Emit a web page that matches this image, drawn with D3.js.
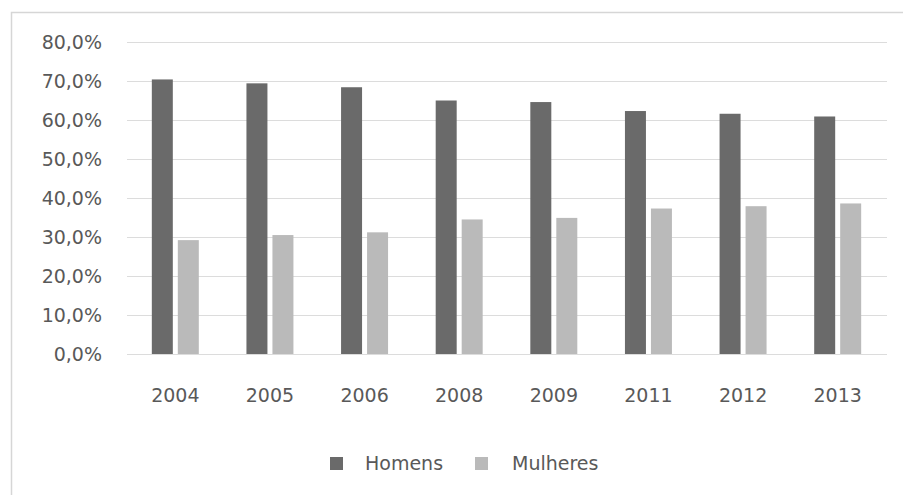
<!DOCTYPE html>
<html>
<head>
<meta charset="utf-8">
<script src="https://cdn.jsdelivr.net/npm/d3@7"></script>
<style>
  html, body { margin: 0; padding: 0; background: #fff; }
  svg { display: block; }
  text { font-family: "DejaVu Sans", sans-serif; fill: #595959; }
</style>
</head>
<body>
<svg id="chart" width="903" height="495"></svg>
<script>
const categories = ["2004", "2005", "2006", "2008", "2009", "2011", "2012", "2013"];
const seriesNames = ["Homens", "Mulheres"];
const homens   = [0.704, 0.694, 0.684, 0.650, 0.646, 0.623, 0.616, 0.609];
const mulheres = [0.292, 0.305, 0.312, 0.345, 0.349, 0.373, 0.379, 0.386];
const yTicks = [0, 0.1, 0.2, 0.3, 0.4, 0.5, 0.6, 0.7, 0.8];
const colors = ["#6a6a6a", "#bababa"];

const seriesValues = [homens, mulheres];
const rows = categories.map((c, i) => ({ cat: c, values: seriesNames.map((s, j) => ({ key: s, value: seriesValues[j][i] })) }));

const ptBR = d3.formatLocale({ decimal: ",", thousands: ".", grouping: [3], currency: ["R$", ""] });
const fmt = ptBR.format(".1%");

const svg = d3.select("#chart");

// outer chart border (extends off the right and bottom)
svg.append("path")
  .attr("d", "M11.5,495 V12.5 H903")
  .attr("fill", "none")
  .attr("stroke", "#d6d6d6")
  .attr("stroke-width", 1.5);

const plot = { left: 127, right: 887, top: 42, bottom: 354 };

const y = d3.scaleLinear().domain([0, 0.8]).range([plot.bottom, plot.top]);

const x0 = d3.scaleBand().domain(categories).range([128, 885])
  .paddingInner(0.5035).paddingOuter(0.25175);
const x1 = d3.scaleBand().domain(seriesNames).range([0, x0.bandwidth()])
  .paddingInner(0.1923).paddingOuter(0);
const color = d3.scaleOrdinal().domain(seriesNames).range(colors);

// gridlines
svg.append("g")
  .selectAll("line")
  .data(yTicks)
  .join("line")
  .attr("x1", plot.left).attr("x2", plot.right)
  .attr("y1", d => Math.round(y(d)) + 0.5).attr("y2", d => Math.round(y(d)) + 0.5)
  .attr("stroke", "#dcdcdc")
  .attr("stroke-width", 1.2);

// y axis labels
const yAxis = d3.axisLeft(y).tickValues(yTicks).tickFormat(fmt).tickSize(0).tickPadding(0);
const gy = svg.append("g").attr("transform", "translate(102,0)").call(yAxis);
gy.select(".domain").remove();
gy.selectAll("text")
  .attr("font-size", 19)
  .attr("font-family", "DejaVu Sans, sans-serif")
  .attr("fill", "#595959")
  .attr("dy", "0.36em");

// bars
const groups = svg.append("g")
  .selectAll("g")
  .data(rows)
  .join("g")
  .attr("transform", d => `translate(${x0(d.cat)},0)`);

groups.selectAll("rect")
  .data(d => d.values)
  .join("rect")
  .attr("x", d => x1(d.key))
  .attr("y", d => y(d.value))
  .attr("width", x1.bandwidth())
  .attr("height", d => y(0) - y(d.value))
  .attr("fill", d => color(d.key));

// x axis labels
const xAxis = d3.axisBottom(x0).tickSize(0).tickPadding(0);
const gx = svg.append("g").attr("transform", `translate(0,${plot.bottom})`).call(xAxis);
gx.select(".domain").remove();
gx.selectAll("text")
  .attr("font-size", 19)
  .attr("font-family", "DejaVu Sans, sans-serif")
  .attr("fill", "#595959")
  .attr("dy", 0)
  .attr("y", 48);

// legend
const legendX = [330, 475];
const legend = svg.append("g")
  .selectAll("g")
  .data(seriesNames)
  .join("g")
  .attr("transform", (d, i) => `translate(${legendX[i]},457)`);
legend.append("rect")
  .attr("width", 13).attr("height", 13)
  .attr("fill", d => color(d));
legend.append("text")
  .attr("x", (d, i) => i === 0 ? 35 : 37)
  .attr("y", 13)
  .attr("font-size", 19)
  .text(d => d);
</script>
</body>
</html>
